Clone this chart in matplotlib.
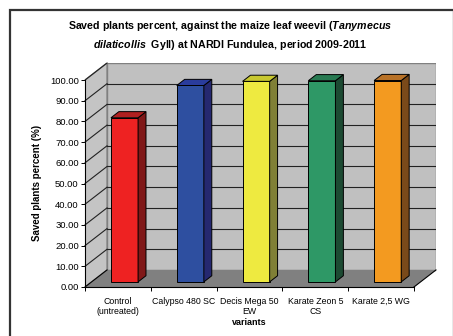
import numpy as np
import matplotlib
matplotlib.use("Agg")
import matplotlib.pyplot as plt
from matplotlib.patches import Polygon, Rectangle

plt.rcParams['font.family'] = 'Liberation Sans'
plt.rcParams['mathtext.fontset'] = 'custom'
plt.rcParams['mathtext.it'] = 'Liberation Sans:italic:bold'
plt.rcParams['mathtext.rm'] = 'Liberation Sans:bold'

variants = ['Control\n(untreated)', 'Calypso 480 SC', 'Decis Mega 50\nEW',
            'Karate Zeon 5\nCS', 'Karate 2,5 WG']
saved = [79.3, 94.9, 96.9, 97.2, 97.3]
front_cols = ['#ee2222', '#2e4fa0', '#eeea40', '#2e9866', '#f39a20']
side_cols = ['#801818', '#252870', '#808036', '#1c4a32', '#7a4a1a']
top_cols = ['#b02020', '#2a3c9c', '#c8c830', '#287a52', '#b87228']
yticks = list(range(0, 101, 10))

# oblique depth offset (in data units)
DX, DY = 0.335, 8.24

def p(x, y, d):
    return (x + d * DX, y + d * DY)

fig = plt.figure(figsize=(4.53, 3.36), dpi=100)
ax = fig.add_axes([85 / 453, 1 - 287 / 336, 351 / 453, 224 / 336])
ax.set_xlim(-0.5, 4.5 + DX)
ax.set_ylim(0, 100 + DY)

x0, x1 = -0.5, len(variants) - 0.5
# back wall
ax.add_patch(Polygon([p(x0, 0, 1), p(x1, 0, 1), p(x1, 100, 1), p(x0, 100, 1)],
                     closed=True, fc='#c0c0c0', ec='#808080', lw=1, zorder=1))
# side wall
ax.add_patch(Polygon([p(x0, 0, 0), p(x0, 0, 1), p(x0, 100, 1), p(x0, 100, 0)],
                     closed=True, fc='#c4c4c4', ec='#808080', lw=1, zorder=1))
# floor
ax.add_patch(Polygon([p(x0, 0, 0), p(x1, 0, 0), p(x1, 0, 1), p(x0, 0, 1)],
                     closed=True, fc='#808080', ec='none', lw=0, zorder=1))
for xx in (x0, x1):
    a, b = p(xx, 0, 0), p(xx, 0, 1)
    ax.plot([a[0], b[0]], [a[1], b[1]], color='black', lw=0.8, zorder=2, clip_on=False)

# gridlines on back wall + diagonals on side wall
for v in yticks[1:-1]:
    a, b = p(x0, v, 1), p(x1, v, 1)
    ax.plot([a[0], b[0]], [a[1], b[1]], color='#222222', lw=0.8, zorder=2)
for v in yticks[1:]:
    a, b = p(x0, v, 0), p(x0, v, 1)
    ax.plot([a[0], b[0]], [a[1], b[1]], color='#222222', lw=0.8, zorder=2, clip_on=False)

# bars
hw, d0, d1 = 0.206, 0.3, 0.66
for i, v in enumerate(saved):
    l, r = i - hw, i + hw
    front = [p(l, 0, d0), p(r, 0, d0), p(r, v, d0), p(l, v, d0)]
    side = [p(r, 0, d0), p(r, 0, d1), p(r, v, d1), p(r, v, d0)]
    top = [p(l, v, d0), p(r, v, d0), p(r, v, d1), p(l, v, d1)]
    ax.add_patch(Polygon(front, closed=True, fc=front_cols[i], ec='black', lw=0.7, zorder=3))
    ax.add_patch(Polygon(side, closed=True, fc=side_cols[i], ec='black', lw=0.7, zorder=3))
    ax.add_patch(Polygon(top, closed=True, fc=top_cols[i], ec='black', lw=0.7, zorder=3))

for s in ('top', 'right'):
    ax.spines[s].set_visible(False)
ax.spines['left'].set_bounds(0, 100)
ax.spines['bottom'].set_bounds(x0, x1)
ax.spines['left'].set_zorder(4)
ax.spines['bottom'].set_zorder(4)
ax.set_facecolor('none')

ax.set_yticks(yticks, ['%.2f' % t for t in yticks], fontsize=6.8)
ax.tick_params(axis='y', length=3, width=0.7, pad=1.5)
ax.set_xticks(range(len(variants)), variants, fontsize=6.3)
ax.set_xticks(np.arange(x0, x1 + 0.01, 1), minor=True)
ax.tick_params(axis='x', which='major', length=0, pad=7)
ax.tick_params(axis='x', which='minor', length=3, width=0.7)

ax.set_ylabel('Saved plants percent (%)', fontsize=7, fontweight='bold')
ax.yaxis.set_label_coords(-0.137, 0.464)
ax.yaxis.label.set_va('center')
ax.set_xlabel('variants', fontsize=6.5, fontweight='bold', va='center')
ax.xaxis.set_label_coords(0.467, -0.159)

fig.text(230 / 453, 1 - 19 / 336,
         'Saved plants percent, against the maize leaf weevil ($\\mathit{Tanymecus}$\n'
         '$\\mathit{dilaticollis}$  Gyll) at NARDI Fundulea, period 2009-2011',
         ha='center', va='top', multialignment='center',
         fontsize=7.7, fontweight='bold', linespacing=1.45)

# chart border
fig.patches.append(Rectangle((10, -10), 444, 336, transform=None, fill=False,
                             ec='#333333', lw=1.6))

fig.savefig('out.png', dpi=100)
